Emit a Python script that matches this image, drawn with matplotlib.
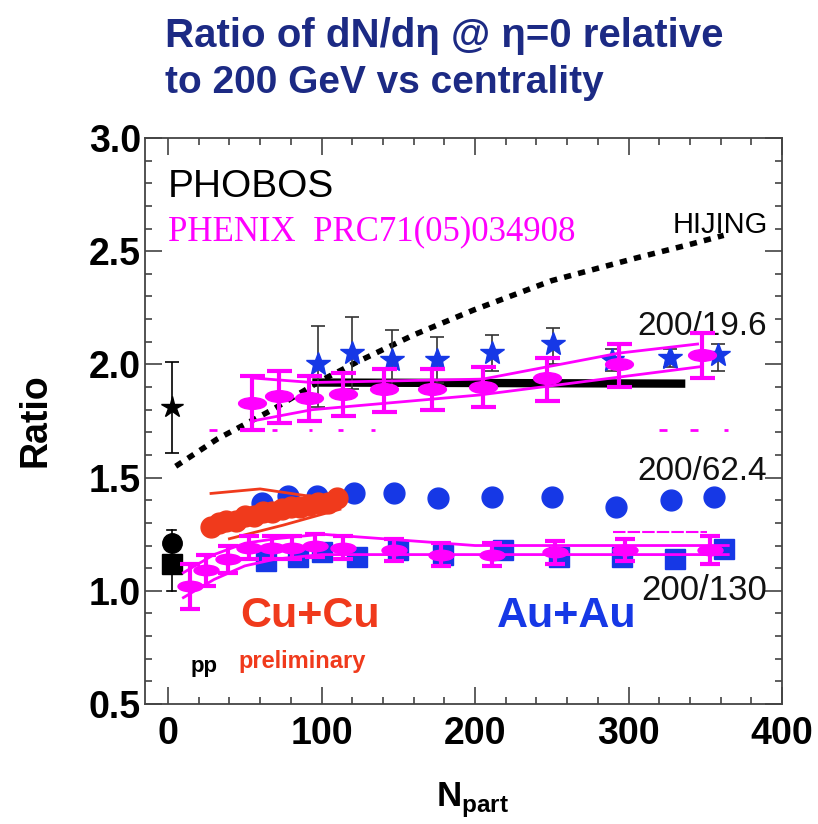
import numpy as np
import matplotlib
matplotlib.use("Agg")
import matplotlib.pyplot as plt
from matplotlib.path import Path
from matplotlib.transforms import Affine2D
from matplotlib.ticker import MultipleLocator

plt.rcParams["font.family"] = ["Liberation Sans", "DejaVu Sans"]
plt.rcParams["mathtext.fontset"] = "custom"
plt.rcParams["mathtext.bf"] = "Liberation Sans:bold"
plt.rcParams["mathtext.rm"] = "Liberation Sans"

# --- HIJING 200/19.6 prediction ---
hijing_n = [5, 32, 68, 100, 123, 160, 199, 250, 305, 340, 362]
hijing_r = [1.55, 1.67, 1.80, 1.93, 2.01, 2.13, 2.24, 2.37, 2.47, 2.53, 2.57]

# --- PHOBOS p+p ---
pp_star = (2.5, 1.81, 0.20)
pp_circle = (2.5, 1.21)
pp_square = (2.5, 1.12)
pp_err_lo, pp_err_hi = 1.00, 1.27

# --- PHOBOS Au+Au 200/19.6 (stars) ---
auau196_n = [98, 120, 146, 175, 211, 251, 289, 327, 358]
auau196_r = [2.00, 2.05, 2.02, 2.02, 2.05, 2.09, 2.02, 2.03, 2.04]
auau196_up = [0.17, 0.16, 0.13, 0.10, 0.08, 0.07, 0.05, 0.04, 0.05]
auau196_dn = [0.19, 0.16, 0.13, 0.10, 0.08, 0.09, 0.05, 0.04, 0.07]
phobos_band_n = [94, 337]
phobos_band_r = [1.92, 1.915]

# --- PHOBOS Au+Au 200/62.4 (circles) ---
auau624_n = [61, 78, 97, 121, 147, 176, 211, 250, 292, 328, 356]
auau624_r = [1.39, 1.42, 1.42, 1.43, 1.43, 1.41, 1.415, 1.415, 1.37, 1.40, 1.415]

# --- PHOBOS Au+Au 200/130 (squares) ---
auau130_n = [64, 85, 100, 123, 150, 179, 218, 255, 296, 330, 362]
auau130_r = [1.13, 1.15, 1.17, 1.15, 1.18, 1.16, 1.18, 1.15, 1.15, 1.14, 1.185]

# --- PHOBOS Cu+Cu 200/62.4 preliminary ---
cucu_n = [28, 33, 38, 44, 50, 56, 62, 68, 74, 80, 86, 92, 98, 104, 110]
cucu_r = [1.28, 1.30, 1.31, 1.31, 1.33, 1.33, 1.35, 1.35, 1.36, 1.37, 1.37, 1.38, 1.39, 1.39, 1.41]
cucu_hi_n = [28, 60, 90, 110]
cucu_hi_r = [1.43, 1.45, 1.42, 1.40]
cucu_lo_n = [40, 75, 112]
cucu_lo_r = [1.23, 1.29, 1.36]

# --- PHENIX 200/19.6 ---
phx196_n = [55, 72, 92, 114, 141, 172, 205, 247, 294, 348]
phx196_r = [1.83, 1.86, 1.85, 1.87, 1.89, 1.89, 1.90, 1.94, 2.00, 2.04]
phx196_up = [0.12, 0.11, 0.10, 0.09, 0.09, 0.09, 0.09, 0.09, 0.09, 0.10]
phx196_dn = [0.12, 0.12, 0.10, 0.10, 0.10, 0.09, 0.09, 0.10, 0.10, 0.10]
phx196_hi_n = [55, 94, 205, 294, 345]
phx196_hi_r = [1.94, 1.92, 1.935, 2.05, 2.09]
phx196_lo_n = [55, 94, 203, 347]
phx196_lo_r = [1.75, 1.80, 1.865, 1.99]
# leftover cap stubs below the 19.6 band
stub_lo = [27, 55, 68, 92, 111, 132, 320, 340, 362]
stub_hi = [32, 59, 71, 94, 114, 135, 325, 345, 365]
stub_r = 1.71

# --- PHENIX 200/130 ---
phx130_n = [14, 25, 39, 53, 68, 81, 96, 114, 147, 178, 211, 252, 298, 353]
phx130_r = [1.02, 1.09, 1.14, 1.19, 1.19, 1.19, 1.20, 1.19, 1.18, 1.16, 1.16, 1.17, 1.18, 1.18]
phx130_err = [0.10, 0.07, 0.06, 0.05, 0.05, 0.05, 0.05, 0.05, 0.05, 0.05, 0.05, 0.05, 0.05, 0.06]
phx130_hi_n = [10, 30, 50, 70, 100, 120, 200, 365]
phx130_hi_r = [1.08, 1.16, 1.21, 1.23, 1.25, 1.24, 1.20, 1.20]
phx130_lo_n = [10, 30, 50, 70, 100, 150, 365]
phx130_lo_r = [0.97, 1.05, 1.11, 1.14, 1.16, 1.16, 1.16]
phx130_top_n = [290, 351]
phx130_top_r = [1.26, 1.26]

BLUE = "#1638e6"
MAG = "#ff00ff"
RED = "#f03a1c"
NAVY = "#1c2a84"

ellipse = Path.unit_circle().transformed(Affine2D().scale(1.0, 0.42))

fig = plt.figure(figsize=(8.18, 8.24), dpi=100)
ax = fig.add_axes([145 / 818, 120 / 824, 637 / 818, 566 / 824])

# HIJING curve
ax.plot(hijing_n, hijing_r, color="black", lw=4, ls=(0, (1.3, 1.3)), zorder=2)

# p+p reference points
ax.errorbar([pp_star[0]], [pp_star[1]], yerr=[pp_star[2]], fmt="*", color="black",
            ms=16, capsize=5, elinewidth=1.2, capthick=1.2, zorder=4)
ax.plot([pp_square[0]] * 2, [pp_err_lo, pp_err_hi], color="black", lw=1.2, zorder=3)
ax.plot([pp_square[0] - 3, pp_square[0] + 3], [pp_err_hi] * 2, color="black", lw=1.2)
ax.plot([pp_square[0] - 3, pp_square[0] + 3], [pp_err_lo] * 2, color="black", lw=1.2)
ax.plot([pp_circle[0]], [pp_circle[1]], "o", color="black", ms=14, zorder=4)
ax.plot([pp_square[0]], [pp_square[1]], "s", color="black", ms=14, zorder=4)

# PHOBOS Au+Au
ax.errorbar(auau196_n, auau196_r, yerr=[auau196_dn, auau196_up], fmt="*", color=BLUE,
            ecolor="#333333", ms=18, capsize=5, elinewidth=1.2, capthick=1.2, zorder=4)
ax.plot(phobos_band_n, phobos_band_r, color="black", lw=6, solid_capstyle="butt", zorder=3)
ax.plot(auau624_n, auau624_r, "o", color=BLUE, ms=15, zorder=4)
ax.plot(auau130_n, auau130_r, "s", color=BLUE, ms=14, zorder=4)

# PHOBOS Cu+Cu
ax.plot(cucu_n, cucu_r, "o", color=RED, ms=15, zorder=4)
ax.plot(cucu_hi_n, cucu_hi_r, color=RED, lw=2, zorder=4)
ax.plot(cucu_lo_n, cucu_lo_r, color=RED, lw=2, zorder=4)

# PHENIX
ax.plot(phx196_hi_n, phx196_hi_r, color=MAG, lw=2, zorder=5)
ax.plot(phx196_lo_n, phx196_lo_r, color=MAG, lw=2, zorder=5)
ax.errorbar(phx196_n, phx196_r, yerr=[phx196_dn, phx196_up], fmt="none", ecolor=MAG,
            elinewidth=3, capsize=9, capthick=3, zorder=6)
ax.plot(phx196_n, phx196_r, ls="none", marker=ellipse, color=MAG, ms=20, zorder=6)
ax.hlines([stub_r] * len(stub_lo), stub_lo, stub_hi, color=MAG, lw=2, zorder=5)

ax.plot(phx130_hi_n, phx130_hi_r, color=MAG, lw=2, zorder=5)
ax.plot(phx130_lo_n, phx130_lo_r, color=MAG, lw=2, zorder=5)
ax.plot(phx130_top_n, phx130_top_r, color=MAG, lw=1.5, ls=(0, (6, 1)), zorder=5)
ax.errorbar(phx130_n, phx130_r, yerr=phx130_err, fmt="none", ecolor=MAG,
            elinewidth=3, capsize=7, capthick=3, zorder=6)
ax.plot(phx130_n, phx130_r, ls="none", marker=ellipse, color=MAG, ms=18, zorder=6)

ax.set_xlim(-15, 400)
ax.set_ylim(0.5, 3.0)
ax.xaxis.set_major_locator(MultipleLocator(100))
ax.xaxis.set_minor_locator(MultipleLocator(20))
ax.yaxis.set_major_locator(MultipleLocator(0.5))
ax.yaxis.set_minor_locator(MultipleLocator(0.1))
ax.set_yticklabels([f"{v:.1f}" for v in ax.get_yticks()])
ax.tick_params(which="both", direction="in", top=True, right=True, color="#333333",
               width=1.1, labelsize=27, pad=3)
ax.tick_params(which="major", length=12)
ax.tick_params(which="minor", length=5)
ax.tick_params(axis="x", pad=9)
for lab in ax.get_xticklabels() + ax.get_yticklabels():
    lab.set_fontweight("bold")
for sp in ax.spines.values():
    sp.set_color("#444444")
    sp.set_linewidth(1.3)

# annotations inside the frame
ax.text(0, 2.74, "PHOBOS", fontsize=28, color="black", va="baseline")
ax.text(0, 2.55, "PHENIX  PRC71(05)034908", fontsize=25, color=MAG, va="baseline",
        family="Liberation Serif")
ax.text(391, 2.58, "HIJING", fontsize=21, color="black", ha="right", va="baseline")
ax.text(390, 2.13, "200/19.6", fontsize=24, color="#111111", ha="right", va="baseline")
ax.text(390, 1.49, "200/62.4", fontsize=24, color="#111111", ha="right", va="baseline")
ax.text(390, 0.96, "200/130", fontsize=25, color="#111111", ha="right", va="baseline")
ax.text(47, 0.84, "Cu+Cu", fontsize=31, fontweight="bold", color=RED, va="baseline")
ax.text(46, 0.66, "preliminary", fontsize=17, fontweight="bold", color=RED, va="baseline")
ax.text(214, 0.84, "Au+Au", fontsize=31, fontweight="bold", color=BLUE, va="baseline")
ax.text(15, 0.64, "pp", fontsize=16, fontweight="bold", color="black", va="baseline")

# title and axis labels
fig.text(165 / 818, 1 - 47 / 824, "Ratio of dN/dη @ η=0 relative", fontsize=29,
         fontweight="bold", color=NAVY, va="baseline")
fig.text(165 / 818, 1 - 93 / 824, "to 200 GeV vs centrality", fontsize=28,
         fontweight="bold", color=NAVY, va="baseline")
fig.text(35 / 818, 1 - 420 / 824, "Ratio", fontsize=27, fontweight="bold",
         rotation=90, ha="center", va="center")
fig.text(473 / 818, 17 / 824, r"$\mathbf{N}_{\mathbf{part}}$", fontsize=25,
         ha="center", va="baseline")

fig.savefig("out.png", dpi=100, facecolor="white")
